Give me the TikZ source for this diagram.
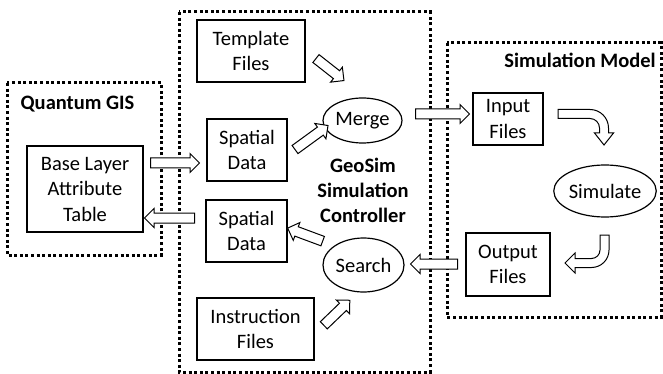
\documentclass[tikz,border=0pt]{standalone}
\usepackage{fontspec}
\setmainfont{Carlito}
\usetikzlibrary{shapes.geometric,shapes.arrows,calc}
\newcommand\blockarr[2]{\path let \p1=($(#2)-(#1)$), \n1={veclen(\x1,\y1)} in (#1) -- (#2) node[blk, midway, sloped, allow upside down, minimum height=\n1]{};}
\begin{document}
\begin{tikzpicture}[x=1pt,y=-1pt,
  every node/.style={font=\fontsize{20.5}{25.5}\selectfont, align=center, inner sep=0pt},
  sbox/.style 2 args={draw, line width=1.2pt, minimum width=#1pt, minimum height=#2pt,
    execute at begin node={\rule{0pt}{21pt}}},
  ell/.style 2 args={ellipse, draw, line width=1.2pt, minimum width=#1pt, minimum height=#2pt},
  dotbox/.style={draw, line width=3pt, dash pattern=on 3pt off 2.6pt},
  ttl/.style={font=\fontsize{20.5}{25}\selectfont\bfseries},
  blk/.style={single arrow, draw, line width=1pt, fill=white, inner xsep=0pt, inner ysep=4.5pt,
    single arrow head extend=4.5pt, single arrow head indent=0pt, minimum width=0pt},
  curv/.style={draw, line width=1pt, fill=white, line join=miter}
]
\useasboundingbox (0,0) rectangle (663,374);
% group frames
\draw[dotbox] (7,83) rectangle (161,255);
\draw[dotbox] (179,12) rectangle (430,372);
\draw[dotbox] (447,43) rectangle (661,317);
% titles
\node[ttl] (tq) at (77.5,104) {Quantum GIS};
\node[ttl] (tm) at (580,60) {Simulation Model};
\node[ttl] (tc) at (363,190) {GeoSim\\Simulation\\Controller};
% nodes
\node[sbox={116}{86}] (base) at (85,189) {Base Layer\\Attribute\\Table};
\node[sbox={108}{62}] (tmpl) at (251,51) {Template\\Files};
\node[sbox={80}{62}] (sp1) at (247,150) {Spatial\\Data};
\node[sbox={81}{62}] (sp2) at (246.5,231) {Spatial\\Data};
\node[sbox={117}{62}] (instr) at (255.5,329) {Instruction\\Files};
\node[ell={79}{45}] (merge) at (362.5,120.5) {Merge};
\node[ell={81}{54}] (search) at (363.5,265) {Search};
\node[sbox={70}{52}] (input) at (508,119) {Input\\Files};
\node[ell={100}{52}] (sim) at (605,191) {Simulate};
\node[sbox={84}{63}] (output) at (508,264.5) {Output\\Files};
% arrow ends
\coordinate (a1s) at (148,163); \coordinate (a1e) at (197,163);
\coordinate (a2s) at (197,218); \coordinate (a2e) at (147,218);
\coordinate (a3s) at (314,57);  \coordinate (a3e) at (342,79);
\coordinate (a4s) at (293,151); \coordinate (a4e) at (326,127);
\coordinate (a5s) at (413,114); \coordinate (a5e) at (467,114);
\coordinate (a8s) at (460,264); \coordinate (a8e) at (413,264);
\coordinate (a9s) at (325,242); \coordinate (a9e) at (290,229);
\coordinate (a10s) at (322,327); \coordinate (a10e) at (348,302);
\blockarr{a1s}{a1e}
\blockarr{a2s}{a2e}
\blockarr{a3s}{a3e}
\blockarr{a4s}{a4e}
\blockarr{a5s}{a5e}
\blockarr{a8s}{a8e}
\blockarr{a9s}{a9e}
\blockarr{a10s}{a10e}
% bent arrows
\draw[curv] (558,109.5) -- (590,109.5) .. controls (600.2,109.5) and (608.5,117.8) .. (608.5,128)
  -- (608.5,133) -- (613.5,133) -- (604,145) -- (594.5,133) -- (599.5,133) -- (599.5,128)
  .. controls (599.5,122.8) and (595.2,118.5) .. (590,118.5) -- (558,118.5) -- cycle;
\draw[curv] (600,235) -- (609,235) -- (609,250) .. controls (609,259.7) and (601.2,267.5) .. (591.5,267.5)
  -- (575,267.5) -- (575,273) -- (565,263) -- (575,253) -- (575,258.5) -- (591.5,258.5)
  .. controls (596.2,258.5) and (600,254.7) .. (600,250) -- cycle;
\end{tikzpicture}
\end{document}
